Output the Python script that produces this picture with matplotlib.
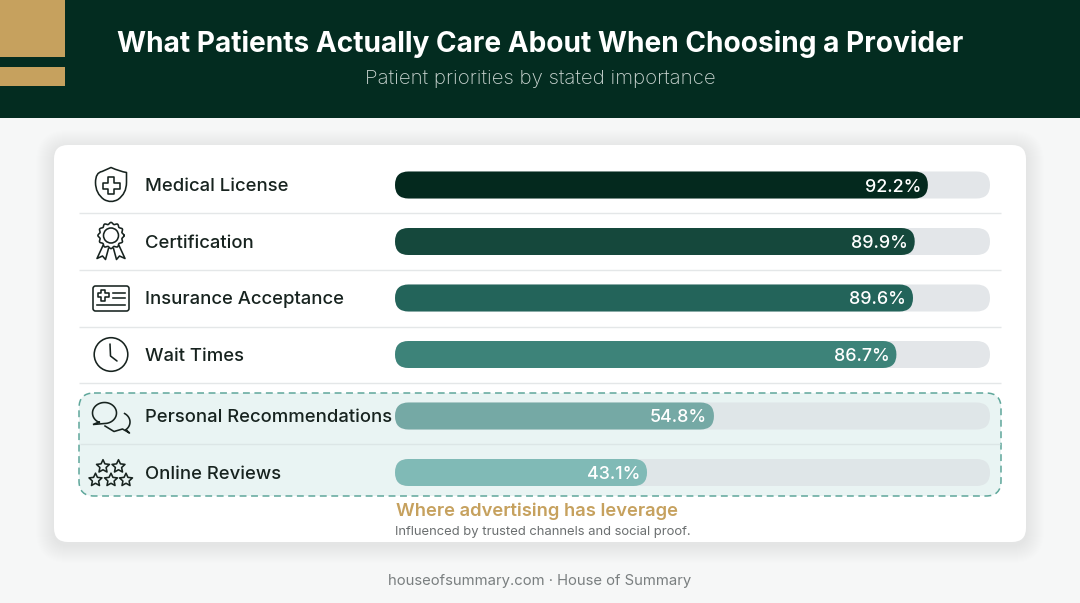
import numpy as np
import matplotlib
matplotlib.use("Agg")
import matplotlib.pyplot as plt
from matplotlib.patches import FancyBboxPatch, Rectangle, Circle, Polygon, PathPatch
from matplotlib.path import Path

categories = ["Medical License", "Certification", "Insurance Acceptance", "Wait Times",
              "Personal Recommendations", "Online Reviews"]
values = [92.2, 89.9, 89.6, 86.7, 54.8, 43.1]
title = "What Patients Actually Care About When Choosing a Provider"
subtitle = "Patient priorities by stated importance"
callout = "Where advertising has leverage"
callout_sub = "Influenced by trusted channels and social proof."
footer = "houseofsummary.com · House of Summary"

row_y = [185, 241.5, 298, 354.5, 416, 472.5]
bar_colors = ["#04291E", "#15483C", "#23645A", "#3D8379", "#75A9A5", "#80BAB6"]
track_colors = ["#E3E6E9"] * 4 + ["#DFE6E8"] * 2
INK = "#17231F"
GOLD = "#C6A15E"
plt.rcParams["font.family"] = ["Inter", "DejaVu Sans"]

W, H = 1080, 603
fig = plt.figure(figsize=(W / 100, H / 100), dpi=100, facecolor="#F6F7F7")
bg = fig.add_axes([0, 0, 1, 1])
bg.set_xlim(0, W); bg.set_ylim(H, 0); bg.axis("off")

def rbox(ax, x, y, w, h, r, **kw):
    p = FancyBboxPatch((x, y), w, h, boxstyle=f"round,pad=0,rounding_size={r}", **kw)
    ax.add_patch(p)
    return p

def px(v):
    return v * 0.72

# header
bg.add_patch(Rectangle((0, 0), W, 118, fc="#032C20", ec="none"))
bg.add_patch(Rectangle((0, 0), 65, 57, fc=GOLD, ec="none"))
bg.add_patch(Rectangle((0, 67), 65, 19, fc=GOLD, ec="none"))
bg.text(540, 44, title, color="white", fontsize=px(28.05), fontweight="bold", ha="center", va="center")
bg.text(540, 79, subtitle, color="#CBD6D2", fontsize=px(20.4), fontweight="light", ha="center", va="center")

# card shadow and card
for g in range(18, 0, -1):
    rbox(bg, 54 - g, 148 - g, 972 + 2 * g, 397 + 2 * g, 14 + g, fc="#000000", ec="none", alpha=0.0028)
rbox(bg, 54, 145, 972, 397, 14, fc="white", ec="none")

# highlight zone
rbox(bg, 79, 393, 922, 103, 15, fc="#E9F4F3", ec="#5FA79B", lw=1.1, ls=(0, (4.5, 3)))

# separators
for y in [213, 270, 327, 383]:
    bg.plot([79, 1001], [y, y], color="#E4E7E8", lw=1, solid_capstyle="butt")
bg.plot([80, 1000], [444, 444], color="#DCE6E6", lw=1, solid_capstyle="butt")

# labels
for y, c in zip(row_y, categories):
    bg.text(145, y + 1.8, c, color=INK, fontsize=px(18.5), fontweight="medium", ha="left", va="center")

# bars on their own value scale: zero sits just inside the pill's rounded start
PX_PER_UNIT = 5.72
ZERO_PX = 400.5
x_min = (395 - ZERO_PX) / PX_PER_UNIT
x_max = (990 - ZERO_PX) / PX_PER_UNIT
bx = fig.add_axes([395 / W, 0, 595 / W, 1], facecolor="none")
bx.set_xlim(x_min, x_max); bx.set_ylim(H, 0); bx.axis("off")
R = 13.5
BAR_H = 27
def pill(x1, y, color, z):
    p = FancyBboxPatch((x_min, y - BAR_H / 2), x1 - x_min, BAR_H,
                       boxstyle=f"round,pad=0,rounding_size={R / PX_PER_UNIT}",
                       mutation_aspect=PX_PER_UNIT, fc=color, ec="none", zorder=z)
    bx.add_patch(p)
for y, v, col, tc in zip(row_y, values, bar_colors, track_colors):
    pill(x_max, y, tc, 2)
    pill(v, y, col, 3)
    bx.annotate(f"{v:.1f}%", (v, y), xytext=(-4.9, 0), textcoords="offset points", color="white",
                fontsize=px(17.9), fontweight="medium", ha="right", va="center_baseline", zorder=4)

# callout
bg.text(396, 511, callout, color=GOLD, fontsize=px(18.4), fontweight="semibold", ha="left", va="center")
bg.text(395, 531.5, callout_sub, color="#6B6F70", fontsize=px(13.05), ha="left", va="center")
bg.text(540, 580.5, footer, color="#7A7F80", fontsize=px(14.85), ha="center", va="center")

# icons
ICON = dict(fc="none", ec=INK, lw=1.15, joinstyle="round", capstyle="round", zorder=5)

def cross(cx, cy, a, b):
    pts = [(-b, -a), (b, -a), (b, -b), (a, -b), (a, b), (b, b), (b, a), (-b, a), (-b, b), (-a, b), (-a, -b), (-b, -b)]
    bg.add_patch(Polygon([(cx + x, cy + y) for x, y in pts], closed=True, **ICON))

# shield
cx, cy = 111, 185.5
verts = [(cx, cy - 18), (cx + 9, cy - 14), (cx + 15.5, cy - 13), (cx + 15.5, cy - 3), (cx + 15.5, cy + 8), (cx + 7, cy + 14),
         (cx, cy + 18), (cx - 7, cy + 14), (cx - 15.5, cy + 8), (cx - 15.5, cy - 3), (cx - 15.5, cy - 13), (cx - 9, cy - 14), (cx, cy - 18)]
codes = [Path.MOVETO, Path.CURVE3, Path.CURVE3, Path.LINETO, Path.CURVE3, Path.CURVE3, Path.CURVE3, Path.CURVE3, Path.CURVE3,
         Path.LINETO, Path.CURVE3, Path.CURVE3, Path.CLOSEPOLY]
bg.add_patch(PathPatch(Path(verts, codes), **ICON))
cross(cx, cy, 8.5, 3)

# rosette
cx, cy = 111, 235.5
t = np.linspace(0, 2 * np.pi, 200)
rr = 12.2 + 0.9 * np.cos(12 * t)
bg.plot(cx + rr * np.cos(t), cy + rr * np.sin(t), color=INK, lw=1.15)
bg.add_patch(Circle((cx, cy), 7.5, **ICON))
bg.plot([cx - 8, cx - 14, cx - 8.5, cx - 5.5, cx - 2.5], [cy + 10, cy + 23, cy + 20.5, cy + 24, cy + 13], color=INK, lw=1.15, solid_joinstyle="round")
bg.plot([cx + 8, cx + 14, cx + 8.5, cx + 5.5, cx + 2.5], [cy + 10, cy + 23, cy + 20.5, cy + 24, cy + 13], color=INK, lw=1.15, solid_joinstyle="round")

# insurance card
rbox(bg, 93, 286, 36, 25, 2.5, **ICON)
cross(103, 295, 5.5, 2)
bg.plot([113, 125], [293, 293], color=INK, lw=1.15)
bg.plot([113, 125], [298, 298], color=INK, lw=1.15)
bg.plot([97, 125], [304.5, 304.5], color=INK, lw=1.15)

# clock
bg.add_patch(Circle((111, 354.5), 16.8, **ICON))
bg.plot([110, 110.5, 117], [344, 356, 361], color=INK, lw=1.15, solid_joinstyle="round", solid_capstyle="round")

# speech bubbles
t = np.radians(np.linspace(-58, 50, 40))
xs = list(118.5 + 11.5 * np.cos(t)) + [129.5, 122.5, 114, 105]
ys = list(422 + 10 * np.sin(t)) + [433, 429, 431.5, 426]
bg.plot(xs, ys, color=INK, lw=1.15, zorder=5, solid_joinstyle="round")
t = np.radians(np.linspace(115, 440, 80))
xs = list(104.5 + 12 * np.cos(t)) + [93, 99.5]
ys = list(413 + 10.5 * np.sin(t)) + [424.5, 421.8]
bg.fill(xs, ys, fc="#E9F4F3", ec=INK, lw=1.15, zorder=5)

# stars
def star(cx, cy, r):
    a = np.radians(np.arange(0, 360, 36) - 90)
    rad = np.where(np.arange(10) % 2 == 0, r, r * 0.48)
    bg.add_patch(Polygon(np.c_[cx + rad * np.cos(a), cy + rad * np.sin(a)], closed=True, **ICON))
for sx, sy in [(103, 466.5), (118.5, 466.5), (95.5, 480), (111, 480), (126, 480)]:
    star(sx, sy, 6.8)

fig.savefig("out.png", dpi=100, facecolor=fig.get_facecolor())
